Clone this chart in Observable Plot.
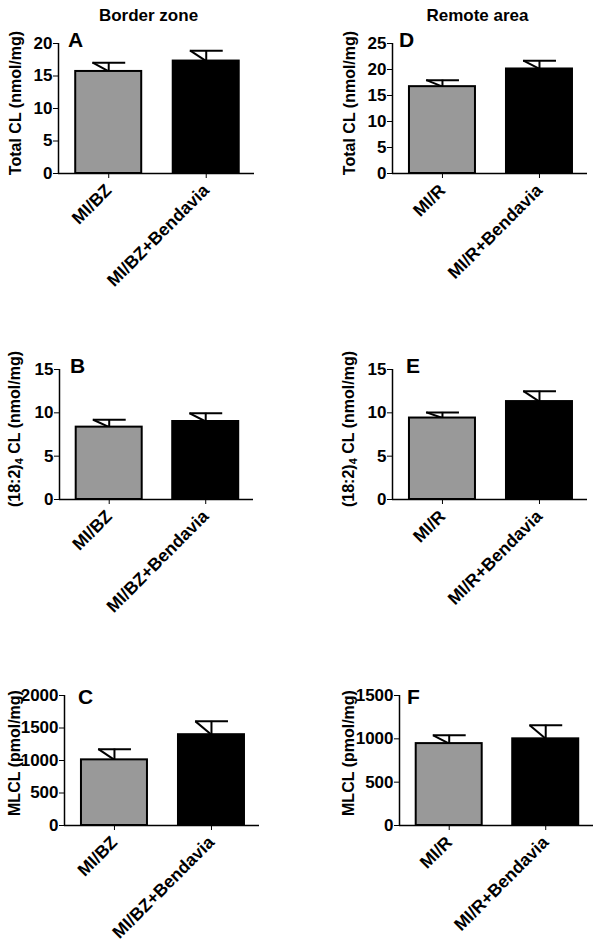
<!DOCTYPE html>
<html><head><meta charset="utf-8">
<script src="https://cdn.jsdelivr.net/npm/d3@7"></script>
<script src="https://cdn.jsdelivr.net/npm/@observablehq/plot@0.6"></script>
<style>
body{margin:0;background:#fff;}
#wrap{position:relative;width:602px;height:947px;overflow:hidden;font-family:"Liberation Sans",Arial,sans-serif;color:#000;}
.panel{position:absolute;}
.panel g[aria-label^="x-axis"] text{font-size:17.5px;}
.panel g[aria-label^="y-axis"] text{font-size:17px;}
.title{position:absolute;font-weight:bold;font-size:17px;line-height:1;transform:translateX(-50%);white-space:nowrap;}
.letter{position:absolute;font-weight:bold;font-size:21px;line-height:1;}
.ylab{position:absolute;font-weight:bold;font-size:16px;line-height:1;white-space:nowrap;transform:translate(-50%,-50%) rotate(-90deg);}
.ylab sub{font-size:11px;vertical-align:-3px;}
</style></head><body><div id="wrap"></div>
<script>
// ---- data ----
const groupsBZ = ["MI/BZ", "MI/BZ+Bendavia"];
const groupsR = ["MI/R", "MI/R+Bendavia"];

const totalCL_BZ = [15.7, 17.3];
const totalCL_BZ_err = [1.35, 1.6];
const totalCL_R = [16.7, 20.1];
const totalCL_R_err = [1.25, 1.6];

const cl18_BZ = [8.35, 9.0];
const cl18_BZ_err = [0.85, 0.95];
const cl18_R = [9.4, 11.3];
const cl18_R_err = [0.65, 1.2];

const mlcl_BZ = [1010, 1397];
const mlcl_BZ_err = [165, 205];
const mlcl_R = [945, 1000];
const mlcl_R_err = [95, 157];

const ticksTotalBZ = [0, 5, 10, 15, 20];
const ticksTotalR = [0, 5, 10, 15, 20, 25];
const ticks18 = [0, 5, 10, 15];
const ticksMlclBZ = [0, 500, 1000, 1500, 2000];
const ticksMlclR = [0, 500, 1000, 1500];

const barColors = ["#999999", "#000000"];

// ---- layout ----
const W = 300, H = 295, MT = 43, MB = 122;
const xDomain = [-0.515, 1.495];
const panels = [
  {letter: "A", left: 0,   top: 0,   ml: 58, mr: 46, groups: groupsBZ, means: totalCL_BZ, errs: totalCL_BZ_err, ticks: ticksTotalBZ, label: "Total CL (nmol/mg)", lx: 16, ly: 102.5, letX: 68, letY: 29},
  {letter: "B", left: 0,   top: 326, ml: 59, mr: 47, groups: groupsBZ, means: cl18_BZ, errs: cl18_BZ_err, ticks: ticks18, label: "(18:2)<sub>4</sub> CL (nmol/mg)", lx: 16, ly: 428.5, letX: 70, letY: 355},
  {letter: "C", left: 0,   top: 652, ml: 64, mr: 41, groups: groupsBZ, means: mlcl_BZ, errs: mlcl_BZ_err, ticks: ticksMlclBZ, label: "MLCL (pmol/mg)", lx: 15, ly: 752.5, letX: 78, letY: 686},
  {letter: "D", left: 300, top: 0,   ml: 92, mr: 13, groups: groupsR, means: totalCL_R, errs: totalCL_R_err, ticks: ticksTotalR, label: "Total CL (nmol/mg)", lx: 349.5, ly: 102.5, letX: 399, letY: 29},
  {letter: "E", left: 300, top: 326, ml: 92, mr: 13, groups: groupsR, means: cl18_R, errs: cl18_R_err, ticks: ticks18, label: "(18:2)<sub>4</sub> CL (nmol/mg)", lx: 349.5, ly: 428.5, letX: 406, letY: 355},
  {letter: "F", left: 300, top: 652, ml: 99, mr: 7,  groups: groupsR, means: mlcl_R, errs: mlcl_R_err, ticks: ticksMlclR, label: "MLCL (pmol/mg)", lx: 349, ly: 753, letX: 407, letY: 686}
];

const wrap = document.getElementById("wrap");

function addDiv(cls, html, styles) {
  const d = document.createElement("div");
  d.className = cls;
  d.innerHTML = html;
  Object.assign(d.style, styles);
  wrap.appendChild(d);
  return d;
}

addDiv("title", "Border zone", {left: "148.5px", top: "7px"});
addDiv("title", "Remote area", {left: "477.5px", top: "7px"});

for (const p of panels) {
  const data = p.means.map((v, i) => ({i, group: p.groups[i], value: v, top: v + p.errs[i]}));
  const step = (W - p.ml - p.mr) / (xDomain[1] - xDomain[0]);
  const hw = 33 / step, capL = 16 / step, capR = 17 / step;
  const ymax = p.ticks[p.ticks.length - 1];

  const chart = Plot.plot({
    width: W, height: H,
    marginLeft: p.ml, marginRight: p.mr, marginTop: MT, marginBottom: MB,
    style: {fontFamily: "Liberation Sans, Arial, sans-serif", fontSize: "17px", fontWeight: "bold", color: "#000", background: "transparent", overflow: "visible"},
    x: {type: "linear", domain: xDomain, ticks: [0, 1], tickFormat: i => p.groups[i], tickRotate: -45, tickSize: 5, tickPadding: 9, label: null},
    y: {domain: [0, ymax], ticks: p.ticks, tickSize: 5, tickPadding: 1, label: null, tickFormat: d => String(d)},
    marks: [
      Plot.link(data, {x1: d => d.i - capL, y1: "top", x2: "i", y2: "value", stroke: "black", strokeWidth: 2}),
      Plot.ruleX(data, {x: "i", y1: "value", y2: "top", stroke: "black", strokeWidth: 2}),
      Plot.ruleY(data, {y: "top", x1: d => d.i - capL, x2: d => d.i + capR, stroke: "black", strokeWidth: 2}),
      Plot.rectY(data.filter(d => d.i === 0), {x1: d => d.i - hw, x2: d => d.i + hw, y: "value", fill: barColors[0], stroke: "black", strokeWidth: 2}),
      Plot.rectY(data.filter(d => d.i === 1), {x1: d => d.i - hw, x2: d => d.i + hw, y: "value", fill: barColors[1], stroke: "black", strokeWidth: 2}),
      Plot.ruleY([0], {stroke: "black", strokeWidth: 1.5}),
      Plot.ruleX([xDomain[0]], {stroke: "black", strokeWidth: 1.5})
    ]
  });
  chart.classList.add("panel");
  chart.style.left = p.left + "px";
  chart.style.top = p.top + "px";
  wrap.appendChild(chart);

  addDiv("ylab", p.label, {left: p.lx + "px", top: p.ly + "px"});
  addDiv("letter", p.letter, {left: p.letX + "px", top: p.letY + "px"});
}
</script>
</body></html>
